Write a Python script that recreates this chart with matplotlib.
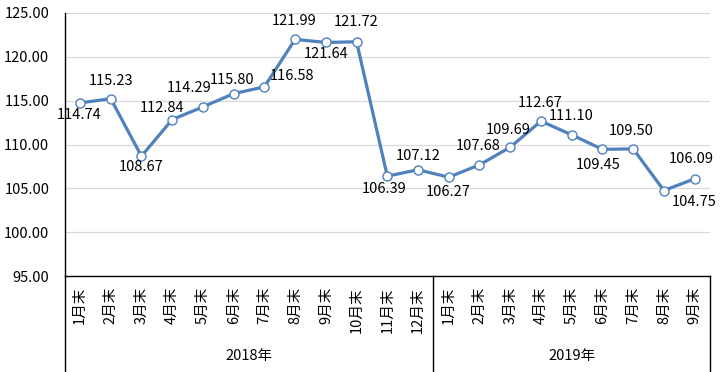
import matplotlib
matplotlib.use("Agg")
import matplotlib.pyplot as plt
from matplotlib.lines import Line2D

plt.rcParams['font.family'] = ['Noto Sans CJK SC', 'DejaVu Sans']

months_2018 = ["1月末", "2月末", "3月末", "4月末", "5月末", "6月末",
               "7月末", "8月末", "9月末", "10月末", "11月末", "12月末"]
months_2019 = ["1月末", "2月末", "3月末", "4月末", "5月末", "6月末",
               "7月末", "8月末", "9月末"]
years = ["2018年", "2019年"]
values = [114.74, 115.23, 108.67, 112.84, 114.29, 115.80, 116.58, 121.99,
          121.64, 121.72, 106.39, 107.12,
          106.27, 107.68, 109.69, 112.67, 111.10, 109.45, 109.50, 104.75, 106.09]
yticks = [95, 100, 105, 110, 115, 120, 125]

# label offsets in pixels (dx right, dy down)
label_offsets = [(-1, 12), (0, -18), (0, 11), (-10, -12), (-14, -19), (-2, -14),
                 (28, -11), (-1, -18), (0, 12), (0, -20), (-3, 13), (0, -14),
                 (-1, 15), (-1, -19), (-2, -17), (-1, -18), (-1, -19), (-4, 16),
                 (-2, -18), (30, 11), (-3, -20)]

labels = months_2018 + months_2019
n = len(values)
x = list(range(n))

FS = 10.5
W, H = 722, 372
fig = plt.figure(figsize=(W / 100, H / 100), dpi=100)
left_px, right_px, top_px, bot_px = 64.6, 710, 13, 276
ax = fig.add_axes([left_px / W, 1 - bot_px / H, (right_px - left_px) / W, (bot_px - top_px) / H])

color = '#4F81BD'
ax.plot(x, values, color=color, lw=2.3, marker='o', ms=6.5, mfc='white',
        mec=color, mew=1.0, zorder=3, solid_joinstyle='round')

ax.set_xlim(-0.5, n - 0.5)
ax.set_ylim(yticks[0], yticks[-1])
ax.set_yticks(yticks)
ax.set_yticklabels([f"{v:.2f}" for v in yticks], fontsize=FS)
ax.tick_params(axis='y', length=0, pad=11)
ax.grid(axis='y', color='#D9D9D9', lw=0.9, zorder=0)
ax.set_axisbelow(True)
for s in ['top', 'right']:
    ax.spines[s].set_visible(False)
ax.spines['left'].set_color('black')
ax.spines['left'].set_linewidth(1.0)
ax.spines['bottom'].set_color('black')
ax.spines['bottom'].set_linewidth(1.0)

ax.set_xticks(x)
ax.set_xticklabels(labels, rotation=90, fontsize=FS, va='top', ha='center')
ax.tick_params(axis='x', length=0, pad=8)

for xi, v, (dx, dy) in zip(x, values, label_offsets):
    ax.annotate(f"{v:.2f}", (xi, v), xytext=(dx * 0.72, -dy * 0.72),
                textcoords='offset points', ha='center', va='center',
                fontsize=FS, color='black', zorder=4)

# group separator lines and year labels below axis
trans = ax.get_xaxis_transform()
ybot = -(H - bot_px) / (bot_px - top_px)
n18 = len(months_2018)
for xb in [-0.5, n18 - 0.5, n - 0.5]:
    ax.add_line(Line2D([xb, xb], [0, ybot], transform=trans, color='black',
                       lw=1.0, clip_on=False))
ylab = -(356 - bot_px) / (bot_px - top_px)
ax.text((-0.5 + n18 - 0.5) / 2, ylab, years[0], transform=trans,
        ha='center', va='center', fontsize=FS)
ax.text((n18 - 0.5 + n - 0.5) / 2, ylab, years[1], transform=trans,
        ha='center', va='center', fontsize=FS)

fig.savefig('out.png', dpi=100)
